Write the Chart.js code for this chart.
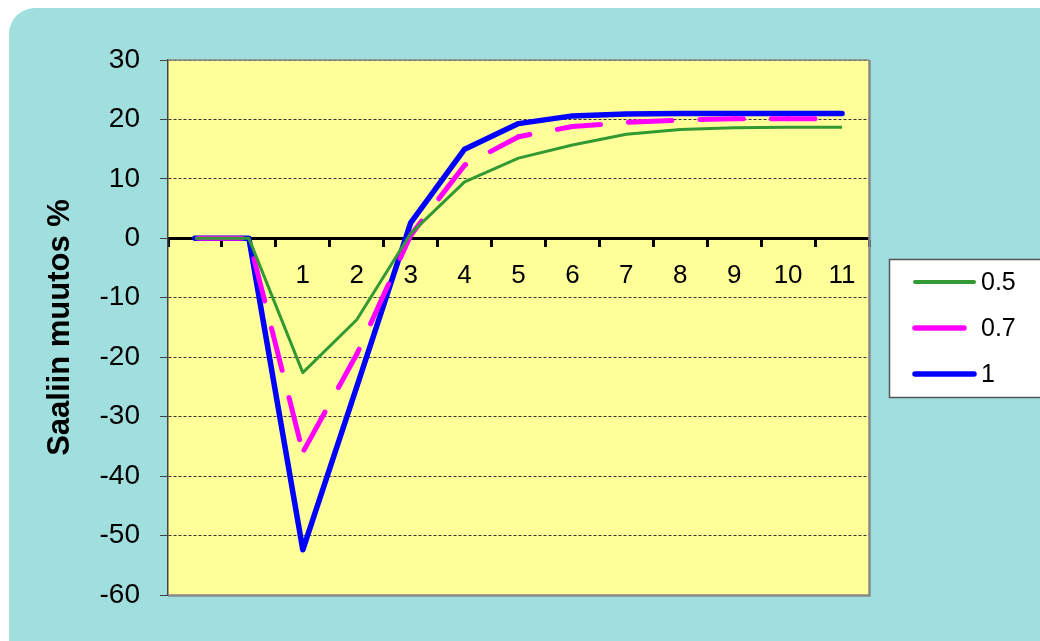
<!DOCTYPE html>
<html>
<head>
<meta charset="utf-8">
<style>
  html, body { margin: 0; padding: 0; background: #ffffff; }
  #wrap { width: 1040px; height: 641px; position: relative; }
  canvas { display: block; }
</style>
<script src="https://cdn.jsdelivr.net/npm/chart.js@4/dist/chart.umd.min.js"></script>
</head>
<body>
<div id="wrap"><canvas id="c" width="1040" height="641"></canvas></div>
<script>
// Categories: two lead-in steps before the change, then years 1..11
const categories = ['', '', '1', '2', '3', '4', '5', '6', '7', '8', '9', '10', '11'];

// Catch change (%) for each exploitation level
const series05 = [0, 0, -22.6, -13.7, 0.8, 9.5, 13.5, 15.7, 17.5, 18.3, 18.6, 18.7, 18.7];
const series07 = [0, 0, -36.0, -19.5, 0.5, 12.3, 17.1, 18.8, 19.5, 19.9, 20.1, 20.1, 20.1];
const series10 = [0, 0, -52.4, -25.0, 2.6, 15.0, 19.3, 20.6, 20.9, 21.0, 21.0, 21.0, 21.0];

const seriesNames = ['0.5', '0.7', '1'];
const yTicks = { min: -60, max: 30, step: 10 };
const yTitle = 'Saaliin muutos %';

const FONT = '"Liberation Sans", Arial, sans-serif';

// Dash pattern for the 0.7 line; the pattern restarts at the trough
const DASH_ON = 43.5;
const DASH_OFF = 28;
const DASH_PERIOD = DASH_ON + DASH_OFF;

function pathLengthTo(meta, index) {
  let s = 0;
  for (let k = 1; k <= index; k++) {
    const a = meta.data[k - 1], b = meta.data[k];
    s += Math.hypot(b.x - a.x, b.y - a.y);
  }
  return s;
}

function dashOffsetFor(ctx) {
  const meta = ctx.chart.getDatasetMeta(ctx.datasetIndex);
  const s = pathLengthTo(meta, ctx.p0DataIndex);
  const anchor = ctx.p0DataIndex < 2 ? 218 : pathLengthTo(meta, 2) + 2.5;
  return (((s - anchor) % DASH_PERIOD) + DASH_PERIOD) % DASH_PERIOD;
}

// Panel background and plot-area fill
const backgroundPlugin = {
  id: 'panelBackground',
  beforeDraw(chart) {
    const ctx = chart.ctx;
    const a = chart.chartArea;
    ctx.save();
    ctx.fillStyle = '#a1dfdf';
    ctx.beginPath();
    ctx.roundRect(9, 8, 1060, 660, 26);
    ctx.fill();
    ctx.fillStyle = '#ffff99';
    ctx.fillRect(a.left, a.top, a.right - a.left, a.bottom - a.top);
    ctx.restore();
  },
  afterDatasetsDraw(chart) {
    const ctx = chart.ctx;
    const a = chart.chartArea;
    ctx.save();
    ctx.strokeStyle = '#888888';
    ctx.lineWidth = 1.5;
    ctx.beginPath();
    ctx.moveTo(a.left, a.top);
    ctx.lineTo(a.right, a.top);
    ctx.stroke();
    ctx.lineWidth = 2.5;
    ctx.beginPath();
    ctx.moveTo(a.right + 0.5, a.top);
    ctx.lineTo(a.right + 0.5, a.bottom + 0.5);
    ctx.lineTo(a.left, a.bottom + 0.5);
    ctx.stroke();
    ctx.restore();
  }
};

// Boxed legend to the right of the plot
const boxLegendPlugin = {
  id: 'boxLegend',
  afterDraw(chart) {
    const ctx = chart.ctx;
    ctx.save();
    ctx.fillStyle = '#ffffff';
    ctx.fillRect(889, 259, 170, 138);
    ctx.strokeStyle = '#555555';
    ctx.lineWidth = 1.5;
    ctx.strokeRect(889.5, 259.5, 170, 138);
    const rows = [282, 328, 374];
    const ends = [974, 964, 974];
    chart.data.datasets.forEach((ds, i) => {
      const y = rows[i];
      ctx.strokeStyle = ds.borderColor;
      ctx.lineWidth = i === 0 ? 4 : 5.5;
      ctx.lineCap = 'round';
      ctx.setLineDash([]);
      ctx.beginPath();
      ctx.moveTo(915, y);
      ctx.lineTo(ends[i], y);
      ctx.stroke();
      ctx.fillStyle = '#000000';
      ctx.font = '25px ' + FONT;
      ctx.textBaseline = 'middle';
      ctx.textAlign = 'left';
      ctx.fillText(ds.label, 981, y + 1);
    });
    ctx.restore();
  }
};

new Chart(document.getElementById('c'), {
  type: 'line',
  data: {
    labels: categories,
    datasets: [
      { label: seriesNames[0], data: series05, borderColor: '#339933', borderWidth: 3, pointRadius: 0, tension: 0, borderJoinStyle: 'round' },
      {
        label: seriesNames[1], data: series07, borderColor: '#ff00ff', borderWidth: 5,
        borderDash: [DASH_ON, DASH_OFF], borderCapStyle: 'round', pointRadius: 0, tension: 0,
        segment: { borderDashOffset: dashOffsetFor }
      },
      { label: seriesNames[2], data: series10, borderColor: '#0000ff', borderWidth: 5.5, pointRadius: 0, tension: 0, borderJoinStyle: 'round', borderCapStyle: 'round' }
    ]
  },
  options: {
    responsive: false,
    animation: false,
    devicePixelRatio: 1,
    layout: { padding: { left: 0, top: 60, right: 171, bottom: 46 } },
    plugins: {
      legend: { display: false },
      tooltip: { enabled: false }
    },
    scales: {
      x: {
        type: 'category',
        position: { y: 0 },
        offset: true,
        grid: {
          offset: true,
          drawOnChartArea: false,
          drawTicks: true,
          tickLength: 7,
          tickWidth: 3,
          tickColor: '#000000'
        },
        border: { display: true, color: '#000000', width: 3 },
        ticks: {
          color: '#000000',
          font: { family: FONT, size: 26 },
          padding: 15,
          maxRotation: 0,
          autoSkip: false
        }
      },
      y: {
        min: yTicks.min,
        max: yTicks.max,
        afterFit(scale) { scale.width = 168; },
        grid: {
          color: '#333333',
          lineWidth: 1,
          tickLength: 8,
          tickColor: '#444444',
          tickBorderDash: [],
          drawTicks: true
        },
        border: { display: true, color: '#444444', width: 1.5, dash: [3, 2] },
        ticks: {
          stepSize: yTicks.step,
          color: '#000000',
          font: { family: FONT, size: 28 },
          padding: 20
        },
        title: {
          display: true,
          text: yTitle,
          color: '#000000',
          font: { family: FONT, size: 31, weight: 'bold' },
          padding: { top: 42, bottom: 0 }
        }
      }
    }
  },
  plugins: [backgroundPlugin, boxLegendPlugin]
});
</script>
</body>
</html>
